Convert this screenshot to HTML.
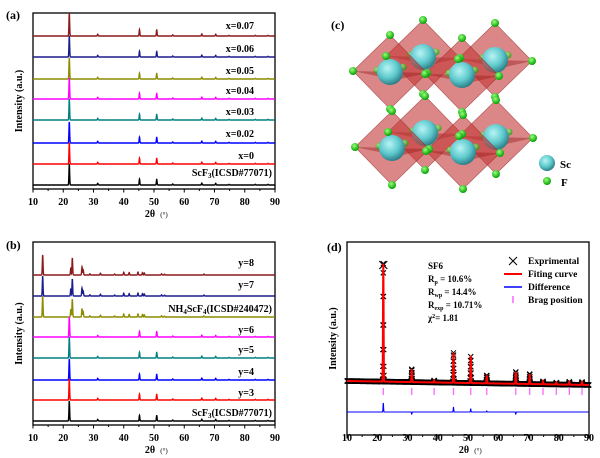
<!DOCTYPE html>
<html><head><meta charset="utf-8"><style>
body{margin:0;background:#fff}
svg{display:block;font-family:"Liberation Serif",serif;font-weight:bold}
</style></head><body>
<svg id="fig" width="600" height="458" viewBox="0 0 600 458"></svg>
<script>
// ---------- data ----------
const scf3Peaks = [22.0, 31.4, 45.2, 50.9, 56.2, 65.8, 70.4, 74.8, 83.5, 87.7];
const scf3Int   = [1.0, 0.08, 0.28, 0.27, 0.05, 0.09, 0.08, 0.03, 0.03, 0.03];
const nh4Peaks = [13.2, 22.5, 23.0, 26.2, 26.6, 28.8, 32.3, 37.0, 40.0, 41.8, 44.7, 46.2, 46.8, 52.5, 53.5, 66.5];
const nh4Int   = [1.0, 0.35, 0.85, 0.4, 0.25, 0.06, 0.09, 0.05, 0.14, 0.12, 0.15, 0.12, 0.1, 0.06, 0.04, 0.05];
const seriesA = ["x=0.07","x=0.06","x=0.05","x=0.04","x=0.03","x=0.02","x=0","ScF3(ICSD#77071)"];
const baseA   = [36, 57, 79, 99, 120, 143, 164, 185];
const heightA = [23, 21, 21, 21, 21, 21, 21, 21];
const colorsA = ["#8b1a1a","#1c1c8c","#8c8c00","#ff00ff","#008080","#0000ff","#ff0000","#000000"];
const seriesB = ["y=8","y=7","NH4ScF4(ICSD#240472)","y=6","y=5","y=4","y=3","ScF3(ICSD#77071)"];
const baseB   = [275, 296, 317, 337, 358, 380, 400, 421];
const phaseB  = ["nh4","nh4","nh4","sc","sc","sc","sc","sc"];
const heightB = [20, 20, 21, 20, 21, 21, 21, 20];
const colorsB = colorsA;
const xTicks = [10,20,30,40,50,60,70,80,90];
const braggPos = [22.0, 31.4, 38.8, 45.2, 50.9, 56.2, 65.8, 70.4, 74.8, 79.2, 83.5, 87.7];
const fitInt   = [118, 13, 2, 30, 27, 8, 12, 10, 3, 2, 3, 3];
const diffInt  = [9, -2, 0, 5, 3, 1, -2, 0, 0, 0, 0, 0];

const NS="http://www.w3.org/2000/svg";
const svg=document.getElementById('fig');
function el(tag,attrs,parent){const e=document.createElementNS(NS,tag);for(const k in attrs)e.setAttribute(k,attrs[k]);(parent||svg).appendChild(e);return e;}
function txt(s,x,y,size,parent,anchor){const t=el('text',{x:x,y:y,'font-size':size,'text-anchor':anchor||'start'},parent);t.textContent=s;return t;}

function axes(name,L,R,T,B,labY,xlY,ylX){
  const g=el('g',{});
  
  
  el('rect',{x:L,y:T,width:R-L,height:B-T,fill:'none',stroke:'#000','stroke-width':1.3},g);
  const sx=v=>L+(v-10)/80*(R-L);
  for(let v=10;v<=90;v+=5){
    el('line',{x1:sx(v),x2:sx(v),y1:B,y2:B+(v%10==0?3.5:2),stroke:'#000','stroke-width':1},g);
  }
  xTicks.forEach(v=>{const t=txt(String(v),sx(v),labY,10,g,'middle');});
  const xl=txt('2θ',(L+R)/2-4,xlY,10,g,'middle');
  
  
  const deg=txt('(°)',(L+R)/2+10,xlY,7,g,'middle');deg.setAttribute('font-weight','normal');
  const yl=txt('Intensity (a.u.)',0,0,10,g,'middle');
  yl.setAttribute('transform',`translate(${ylX},${(T+B)/2}) rotate(-90)`);
  
  
  return sx;
}
function profile(x,pos,ints,w){let y=0;for(let i=0;i<pos.length;i++){const d=(x-pos[i])/w;y+=ints[i]*Math.exp(-d*d);}return y;}
function trace(sx,base,h,pos,ints,color,name){
  let d='';
  for(let v=10;v<=90;v+=0.04){const y=base-h*profile(v,pos,ints,0.16);d+=(d?'L':'M')+sx(v).toFixed(2)+' '+y.toFixed(2);}
  const p=el('path',{d:d,fill:'none',stroke:color,'stroke-width':1.4});
  
  
}
function label(s,x,y,name){
  const t=el('text',{x:x,y:y,'font-size':10,'text-anchor':'end'});
  
  
  const m=s.match(/^(NH4ScF4|ScF3)(.*)$/);
  if(m){
    if(m[1]=='ScF3'){t.appendChild(document.createTextNode('ScF'));const s1=el('tspan',{'font-size':7,dy:2},t);s1.textContent='3';const s2=el('tspan',{dy:-2},t);s2.textContent=m[2];}
    else{t.appendChild(document.createTextNode('NH'));let a=el('tspan',{'font-size':7,dy:2},t);a.textContent='4';a=el('tspan',{dy:-2},t);a.textContent='ScF';a=el('tspan',{'font-size':7,dy:2},t);a.textContent='4';a=el('tspan',{dy:-2},t);a.textContent=m[2];}
  } else t.textContent=s;
}

// ---------- panel a ----------
let sx=axes('panel-a-axes',33,275,13,189,205,217,22);
seriesA.forEach((s,i)=>{trace(sx,baseA[i],heightA[i],scf3Peaks,scf3Int,colorsA[i],'trace-'+s.toLowerCase().replace(/[^a-z0-9]+/g,'-'));});
const labYA=[29,52,74,94,115,137,159,176];
seriesA.forEach((s,i)=>label(s,i==7?272:254,labYA[i],'label-a-'+i));
txt('(a)',6,19,12);

// ---------- panel b ----------
sx=axes('panel-b-axes',33,275,242,425,441,453,22);
seriesB.forEach((s,i)=>{const nh=phaseB[i]=='nh4';trace(sx,baseB[i],heightB[i],nh?nh4Peaks:scf3Peaks,nh?nh4Int:scf3Int,colorsB[i],'trace-b-'+i);});
const labYB=[266,288,312,333,353,375,396,416];
seriesB.forEach((s,i)=>label(s,(i==2||i==7)?272:254,labYB[i],'label-b-'+i));
txt('(b)',6,249,12);

// ---------- panel d ----------
const dL=347,dR=589;
sx=axes('panel-d-axes',dL,dR,242,435,441,453,336);
const bgY=v=>381+(v-10)/80*4;
let md='';
for(let v=10;v<=90;v+=0.04){const y=bgY(v)-profile(v,braggPos,fitInt,0.14);const x=sx(v);md+=`M${(x-2.5).toFixed(1)} ${(y-2.5).toFixed(1)}l5 5m0 -5l-5 5`;}
const mk=el('path',{d:md,stroke:'#000','stroke-width':1,fill:'none'});


const big=el('path',{d:`M${sx(22)-4} 261l8 8m0 -8l-8 8`,stroke:'#000','stroke-width':1.1,fill:'none'});


let fd='';
for(let v=10;v<=90;v+=0.04){const y=bgY(v)-profile(v,braggPos,fitInt,0.14);fd+=(fd?'L':'M')+sx(v).toFixed(2)+' '+y.toFixed(2);}
const fc=el('path',{d:fd,stroke:'#ff0000','stroke-width':2,fill:'none'});


let dd='';
for(let v=10;v<=90;v+=0.04){const y=412-profile(v,braggPos,diffInt,0.12);dd+=(dd?'L':'M')+sx(v).toFixed(2)+' '+y.toFixed(2);}
const dc=el('path',{d:dd,stroke:'#0000ff','stroke-width':1.1,fill:'none'});


braggPos.forEach(v=>{const l=el('line',{x1:sx(v),x2:sx(v),y1:388,y2:395,stroke:'#ff66ff','stroke-width':1.3});});
txt('(d)',327,251,12);
const st=el('g',{});
txt('SF6',428,269,9,st);
function sub(main,s,rest,y){const t=el('text',{x:428,y:y,'font-size':9},st);t.appendChild(document.createTextNode(main));const a=el('tspan',{'font-size':6,dy:2},t);a.textContent=s;const b=el('tspan',{dy:-2},t);b.textContent=rest;}
sub('R','p',' = 10.6%',282);sub('R','wp',' = 14.4%',295);sub('R','exp',' = 10.71%',308);
const chi=el('text',{x:428,y:321,'font-size':9},st);chi.appendChild(document.createTextNode('χ'));let cs=el('tspan',{'font-size':6,dy:-3},chi);cs.textContent='2';cs=el('tspan',{dy:3},chi);cs.textContent='= 1.81';
const lg=el('g',{});
el('path',{d:'M509 257l8 8m0 -8l-8 8',stroke:'#000','stroke-width':1},lg);txt('Exprimental',528,264,9.5,lg);
el('line',{x1:504,x2:522,y1:274,y2:274,stroke:'#ff0000','stroke-width':2},lg);txt('Fiting curve',528,277,9.5,lg);
el('line',{x1:504,x2:522,y1:287,y2:287,stroke:'#0000ff','stroke-width':1.5},lg);txt('Difference',528,290,9.5,lg);
el('line',{x1:513,x2:513,y1:296,y2:303,stroke:'#ff66ff','stroke-width':1.5},lg);txt('Brag position',528,303,9.5,lg);

// ---------- panel c: crystal ----------
const cg=el('g',{});
txt('(c)',331,29,12,cg);
const defs=el('defs',{});
const rg=el('radialGradient',{id:'sc',cx:'40%',cy:'35%',r:'65%'},defs);
el('stop',{offset:'0','stop-color':'#b8f4f4'},rg);el('stop',{offset:'0.6','stop-color':'#5cc8cc'},rg);el('stop',{offset:'1','stop-color':'#2f7f88'},rg);
const gg=el('radialGradient',{id:'fg',cx:'40%',cy:'35%',r:'65%'},defs);
el('stop',{offset:'0','stop-color':'#9cff7c'},gg);el('stop',{offset:'1','stop-color':'#00a000'},gg);
const centers=[[423,57],[495,60],[425,133],[496,137],[390,72],[462,75],[392,148],[463,152]];
const R0=37;
centers.forEach((c,i)=>{
  const [x,y]=c;
  el('polygon',{points:`${x},${y-R0} ${x+R0},${y+1} ${x},${y+R0} ${x-R0},${y-1}`,fill:'rgba(195,55,55,0.6)',stroke:'rgba(150,40,40,0.7)','stroke-width':0.6},cg);
  el('polygon',{points:`${x-R0},${y-1} ${x+R0},${y+1} ${x+6},${y+8}`,fill:'rgba(150,20,20,0.4)'},cg);
  el('circle',{cx:x+13,cy:y-5,r:3.5,fill:'url(#fg)',opacity:0.7},cg);
  el('circle',{cx:x-13,cy:y-2,r:3.5,fill:'url(#fg)',opacity:0.7},cg);
  el('circle',{cx:x,cy:y,r:13,fill:'url(#sc)'},cg);
});
centers.forEach(c=>{const [x,y]=c;[[0,-R0],[R0,1],[0,R0],[-R0,-1]].forEach(o=>el('circle',{cx:x+o[0],cy:y+o[1],r:4,fill:'url(#fg)'},cg));});
el('circle',{cx:547,cy:163,r:8,fill:'url(#sc)'},cg);txt('Sc',560,168,11,cg);
el('circle',{cx:547,cy:181,r:4,fill:'url(#fg)'},cg);txt('F',561,186,11,cg);
</script>
</body></html>
